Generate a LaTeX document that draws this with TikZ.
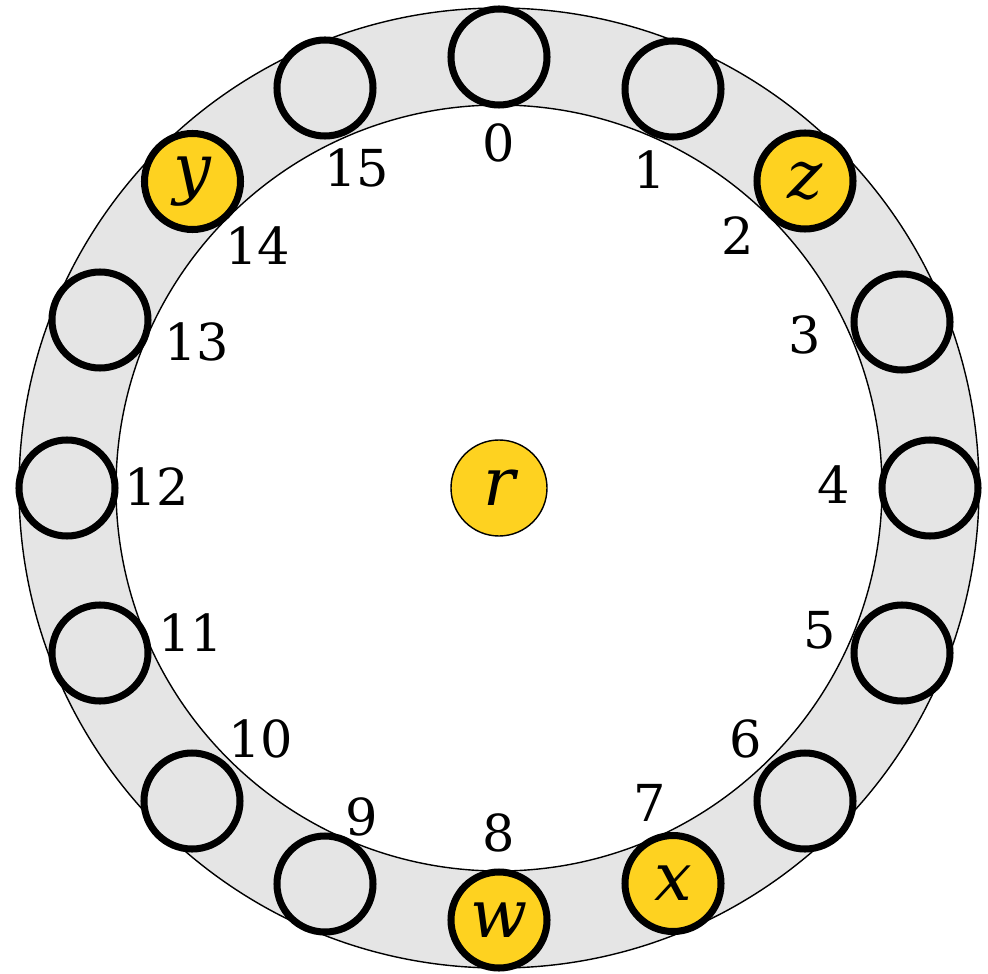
\documentclass[tikz,border=0pt]{standalone}
\usepackage{fontspec}
\setmainfont{DejaVu Serif}
\usepackage{tikz}
\definecolor{ringgrey}{RGB}{229,229,229}
\definecolor{gold}{RGB}{254,210,32}
\tikzset{%
    slot/.style={%
        circle, draw, line width=2pt, fill=ringgrey,
        minimum size=0.96cm, inner sep=0pt,
        font=\fontsize{19}{19}\selectfont\itshape
    },
    used/.style={fill=gold},
    idx/.style={font=\fontsize{14.5}{15}\selectfont}
}

\begin{document}
\begin{tikzpicture}
    \useasboundingbox (-4.99,-4.85) rectangle (4.89,4.88);
%-----------------------------------------------
    \fill[ringgrey, even odd rule] (0,0) circle (4.8) circle (3.83);
    \draw[line width=0.4pt] (0,0) circle (4.8) (0,0) circle (3.83);
%-----------------------------------------------
    \foreach \k/\x/\y in {0/0/4.31, 1/1.74/3.99, 3/4.03/1.66, 4/4.31/0,
                          5/4.03/-1.65, 6/3.06/-3.13, 9/-1.74/-3.96, 10/-3.07/-3.13,
                          11/-3.99/-1.65, 12/-4.32/0, 13/-3.99/1.68, 15/-1.74/4.00}
        \node[slot] (n\k) at (\x,\y) {};
    \foreach \k/\x/\y/\t in {2/3.06/3.07/z, 7/1.74/-3.955/x, 8/0/-4.32/w, 14/-3.065/3.065/y}
        \node[slot,used] (n\k) at (\x,\y) {\t};
%-----------------------------------------------
    \foreach \k/\x/\y in {0/0/3.45, 1/1.51/3.18, 2/2.39/2.52, 3/3.06/1.53,
                          4/3.35/0.03, 5/3.21/-1.42, 6/2.47/-2.51, 7/1.51/-3.15,
                          8/0/-3.45, 9/-1.37/-3.29, 10/-2.38/-2.51, 11/-3.08/-1.45,
                          12/-3.42/0.01, 13/-3.02/1.46, 14/-2.41/2.42, 15/-1.42/3.20}
        \node[idx] (l\k) at (\x,\y) {\k};
%-----------------------------------------------
    \node[circle, draw, line width=0.4pt, fill=gold, minimum size=0.96cm, inner sep=0pt,
          font=\fontsize{19}{19}\selectfont\itshape] (r) at (0,0) {r};
\end{tikzpicture}
\end{document}
